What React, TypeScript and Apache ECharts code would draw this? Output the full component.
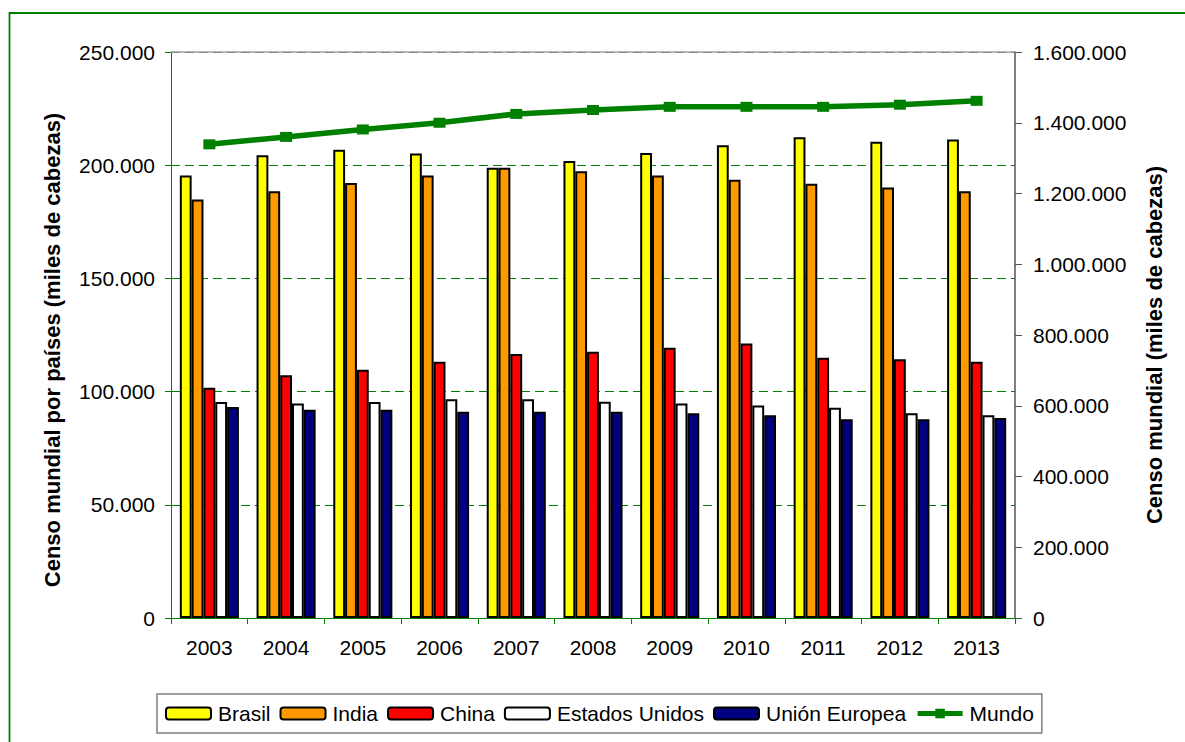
import React, { useEffect, useRef } from "react";
import * as echarts from "echarts";

const years = ["2003", "2004", "2005", "2006", "2007", "2008", "2009", "2010", "2011", "2012", "2013"];
const brasil = [195500, 204400, 206800, 205200, 198900, 201900, 205400, 208800, 212300, 210400, 211300];
const india = [184900, 188500, 192100, 195500, 198900, 197300, 195500, 193600, 191800, 190100, 188500];
const china = [101700, 107200, 109700, 113200, 116600, 117600, 119400, 121300, 115000, 114300, 113200];
const estadosUnidos = [95400, 94700, 95400, 96600, 96600, 95500, 94700, 93900, 92900, 90400, 89500];
const unionEuropea = [93200, 92000, 92000, 91100, 91100, 91100, 90400, 89500, 87800, 87800, 88300];
const mundo = [1339000, 1360000, 1381000, 1400000, 1425000, 1436000, 1445000, 1445000, 1445000, 1451000, 1462000];

const leftTitle = "Censo mundial por países (miles de cabezas)";
const rightTitle = "Censo mundial (miles de cabezas)";

const FONT = "'Liberation Sans', Arial, sans-serif";
const GREEN = "#008000";

const fmt = (v: number) => String(v).replace(/\B(?=(\d{3})+(?!\d))/g, ".");

export default function App() {
  const ref = useRef<HTMLDivElement>(null);
  useEffect(() => {
    if (!ref.current) return;
    const chart = echarts.init(ref.current, null, { renderer: "svg" });
    const barSeries = (name: string, data: number[], color: string) => ({
      name,
      type: "bar",
      data,
      barGap: "0%",
      barCategoryGap: "23%",
      itemStyle: { color, borderColor: "#000000", borderWidth: 2 },
    });
    chart.setOption({
      animation: false,
      backgroundColor: "#ffffff",
      textStyle: { fontFamily: FONT },
      grid: {
        left: 171,
        right: 170,
        top: 52,
        bottom: 124,
        show: false,
        containLabel: false,
        outerBoundsMode: "none",
      },
      legend: {
        left: 157,
        top: 694,
        padding: [9, 8, 9, 8],
        borderColor: "#808080",
        borderWidth: 1.5,
        itemWidth: 45,
        itemHeight: 12,
        itemGap: 9,
        textStyle: { fontSize: 21, color: "#000", fontFamily: FONT, padding: [0, 0, 0, 2] },
        data: [
          "Brasil",
          "India",
          "China",
          "Estados Unidos",
          "Unión Europea",
          { name: "Mundo", lineStyle: { width: 5 } },
        ],
      },
      xAxis: {
        type: "category",
        data: years,
        boundaryGap: true,
        axisLine: { lineStyle: { color: GREEN, width: 1 } },
        axisTick: { show: true, length: 6, lineStyle: { color: GREEN } },
        axisLabel: { color: "#000", fontSize: 21, margin: 19, fontFamily: FONT },
      },
      yAxis: [
        {
          type: "value",
          min: 0,
          max: 250000,
          interval: 50000,
          axisLine: { show: true, lineStyle: { color: GREEN, width: 1 } },
          axisTick: { show: true, length: 6, lineStyle: { color: GREEN } },
          axisLabel: { color: "#000", fontSize: 21, margin: 16, formatter: fmt, fontFamily: FONT },
          splitLine: { show: true, lineStyle: { color: GREEN, type: [9, 5], width: 1 } },
        },
        {
          type: "value",
          min: 0,
          max: 1600000,
          interval: 200000,
          position: "right",
          axisLine: { show: true, lineStyle: { color: "#555555", width: 1.5 } },
          axisTick: { show: true, length: 7, lineStyle: { color: "#555555" } },
          axisLabel: { color: "#000", fontSize: 21, margin: 18, formatter: fmt, fontFamily: FONT },
          splitLine: { show: false },
        },
      ],
      series: [
        barSeries("Brasil", brasil, "#FFFF00"),
        barSeries("India", india, "#FF9900"),
        barSeries("China", china, "#FF0000"),
        barSeries("Estados Unidos", estadosUnidos, "#FFFFFF"),
        barSeries("Unión Europea", unionEuropea, "#000080"),
        {
          name: "Mundo",
          type: "line",
          yAxisIndex: 1,
          data: mundo,
          symbol: "rect",
          symbolSize: [12, 10],
          itemStyle: { color: GREEN },
          lineStyle: { color: GREEN, width: 5.5 },
          z: 5,
        },
      ],
      graphic: [
        {
          type: "rect",
          shape: { x: 9.5, y: 13, width: 1200, height: 760 },
          style: { fill: "none", stroke: GREEN, lineWidth: 1.8 },
          silent: true,
          z: 100,
        },
        {
          type: "line",
          shape: { x1: 171, y1: 52, x2: 1015, y2: 52 },
          style: { stroke: "#a0a0a0", lineWidth: 1.5 },
          silent: true,
          z: 50,
        },
        {
          type: "text",
          x: 52,
          y: 350,
          rotation: Math.PI / 2,
          style: {
            text: leftTitle,
            font: `bold 22px ${FONT}`,
            fill: "#000",
            textAlign: "center",
            textVerticalAlign: "middle",
          },
        },
        {
          type: "text",
          x: 1154,
          y: 345,
          rotation: Math.PI / 2,
          style: {
            text: rightTitle,
            font: `bold 22px ${FONT}`,
            fill: "#000",
            textAlign: "center",
            textVerticalAlign: "middle",
          },
        },
      ],
    });
    return () => chart.dispose();
  }, []);
  return (
    <div
      ref={ref}
      style={{ position: "absolute", left: 0, top: 0, width: 1185, height: 742, background: "#fff" }}
    />
  );
}
